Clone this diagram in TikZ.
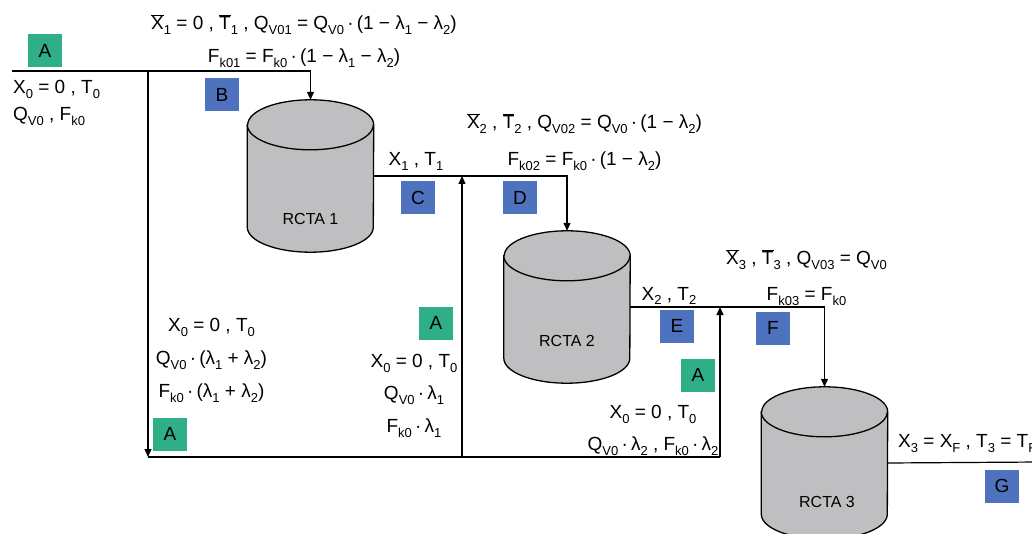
\documentclass[tikz,border=0pt]{standalone}
\usepackage{fontspec}
\setmainfont{Liberation Sans}
\usetikzlibrary{shapes.geometric, arrows.meta, positioning, calc}
\definecolor{tankgray}{HTML}{BFBFC1}
\definecolor{taggreen}{HTML}{2EAF87}
\definecolor{tagblue}{HTML}{4F72BE}
\newcommand{\sub}[1]{\raisebox{-5pt}{\fontsize{13}{13}\selectfont#1}}
\newcommand{\ovl}[1]{$\overline{\mbox{#1}}$}
% cylinder drawn round a named box node
\newcommand{\drawtank}[1]{%
  \filldraw [tankline] ($(#1.north west)+(0,25)$) -- ($(#1.south west)+(0,-25)$)
    arc [start angle=180, end angle=360, x radius=63pt, y radius=25pt]
    -- ($(#1.north east)+(0,25)$)
    arc [start angle=0, end angle=180, x radius=63pt, y radius=25pt] -- cycle;
  \draw [tankline] ($(#1.north west)+(0,25)$)
    arc [start angle=180, end angle=360, x radius=63pt, y radius=25pt];}

\begin{document}
\begin{tikzpicture}[x=1pt, y=-1pt, >={Triangle[length=8pt,width=7pt]}]
                    \tikzstyle{tank} = [rectangle, minimum width=126pt, minimum height=152pt, inner sep=0pt]
                    \tikzstyle{tankline} = [draw=black, line width=1.3pt, fill=tankgray]
                    \tikzstyle{tanklabel} = [font=\fontsize{16}{16}\selectfont, inner sep=0pt]
                    \tikzstyle{pipe} = [line width=1.2pt]
                    \tikzstyle{tag} = [rectangle, minimum width=34pt, minimum height=33pt, inner sep=0pt, font=\fontsize{19}{19}\selectfont]
                    \tikzstyle{eq} = [anchor=base, inner sep=0pt, font=\fontsize{19}{19}\selectfont]

                    \useasboundingbox (0,0) rectangle (1032,534);
                    \clip (0,0) rectangle (1032,534);

                    % reactors
                    \node (rc1) [tank] at (310.5,176) {};
                    \node (rc2) [tank] at (567,307) {};
                    \node (rc3) [tank] at (824.5,463) {};
                    \drawtank{rc1}
                    \drawtank{rc2}
                    \drawtank{rc3}
                    \node (lbl1) [tanklabel] at (310.5,219) {RCTA 1};
                    \node (lbl2) [tanklabel] at (567,341) {RCTA 2};
                    \node (lbl3) [tanklabel] at (827,502) {RCTA 3};

                    % pipe corners
                    \coordinate (feed) at (12,71);
                    \coordinate (split) at (148,71);
                    \coordinate (mix) at (148,457);
                    \coordinate (side1) at (462,457);
                    \coordinate (side2) at (720,457);
                    \coordinate (prod) at (1040,462);

                    \draw [pipe, ->] (feed) -| (rc1.north);
                    \draw [pipe, ->] (split) -- (mix);
                    \draw [pipe] (mix) -- (side2);
                    \draw [pipe, ->] (side1) -- (side1 |- rc1.east);
                    \draw [pipe, ->] (side2) -- (side2 |- rc2.east);
                    \draw [pipe, ->] (rc1.east) -| (rc2.north);
                    \draw [pipe, ->] (rc2.east) -| (rc3.north);
                    \draw [pipe] (rc3.east) -- (prod);

                    % stream tags
                    \node (a0) [tag, fill=taggreen] at (45,51) {A};
                    \node (b) [tag, fill=tagblue] at (222,95) {B};
                    \node (c) [tag, fill=tagblue] at (418,198) {C};
                    \node (d) [tag, fill=tagblue] at (520,198) {D};
                    \node (a1) [tag, fill=taggreen] at (436,323) {A};
                    \node (a2) [tag, fill=taggreen] at (170,434) {A};
                    \node (e) [tag, fill=tagblue] at (677,326) {E};
                    \node (f) [tag, fill=tagblue] at (773,328) {F};
                    \node (a3) [tag, fill=taggreen] at (698,375) {A};
                    \node (g) [tag, fill=tagblue] at (1002,486) {G};

                    % stream values
                    \node (in1) [eq] at (304,30) {\ovl{X}\sub{1} = 0 , \ovl{T}\sub{1} , Q\sub{V01} = Q\sub{V0}\,·\,(1 − λ\sub{1} − λ\sub{2})};
                    \node (in2) [eq, below=33pt of in1.base, anchor=base] {F\sub{k01} = F\sub{k0}\,·\,(1 − λ\sub{1} − λ\sub{2})};
                    \node (feedx) [eq, anchor=base west] at (13,94) {X\sub{0} = 0 , T\sub{0}};
                    \node (feedq) [eq, below=27pt of feedx.base west, anchor=base west] {Q\sub{V0} , F\sub{k0}};
                    \node (out1) [eq] at (416,166) {X\sub{1} , T\sub{1}};
                    \node (in3) [eq] at (584.5,129) {\ovl{X}\sub{2} , \ovl{T}\sub{2} , Q\sub{V02} = Q\sub{V0}\,·\,(1 − λ\sub{2})};
                    \node (in4) [eq, below=37pt of in3.base, anchor=base] {F\sub{k02} = F\sub{k0}\,·\,(1 − λ\sub{2})};
                    \node (out2) [eq] at (669,300) {X\sub{2} , T\sub{2}};
                    \node (in5) [eq] at (806.5,265) {\ovl{X}\sub{3} , \ovl{T}\sub{3} , Q\sub{V03} = Q\sub{V0}};
                    \node (in6) [eq, below=36pt of in5.base, anchor=base] {F\sub{k03} = F\sub{k0}};
                    \node (mixx) [eq] at (211.5,331) {X\sub{0} = 0 , T\sub{0}};
                    \node (mixq) [eq, below=33pt of mixx.base, anchor=base] {Q\sub{V0}\,·\,(λ\sub{1} + λ\sub{2})};
                    \node (mixf) [eq, below=33pt of mixq.base, anchor=base] {F\sub{k0}\,·\,(λ\sub{1} + λ\sub{2})};
                    \node (s1x) [eq] at (414,367) {X\sub{0} = 0 , T\sub{0}};
                    \node (s1q) [eq, below=32pt of s1x.base, anchor=base] {Q\sub{V0}\,·\,λ\sub{1}};
                    \node (s1f) [eq, below=33pt of s1q.base, anchor=base] {F\sub{k0}\,·\,λ\sub{1}};
                    \node (s2x) [eq] at (653,418) {X\sub{0} = 0 , T\sub{0}};
                    \node (s2q) [eq, below=32pt of s2x.base, anchor=base] {Q\sub{V0}\,·\,λ\sub{2} , F\sub{k0}\,·\,λ\sub{2}};
                    \node (out3) [eq, anchor=base west] at (898,447) {X\sub{3} = X\sub{F} , T\sub{3} = T\sub{F}};
                \end{tikzpicture}
\end{document}
